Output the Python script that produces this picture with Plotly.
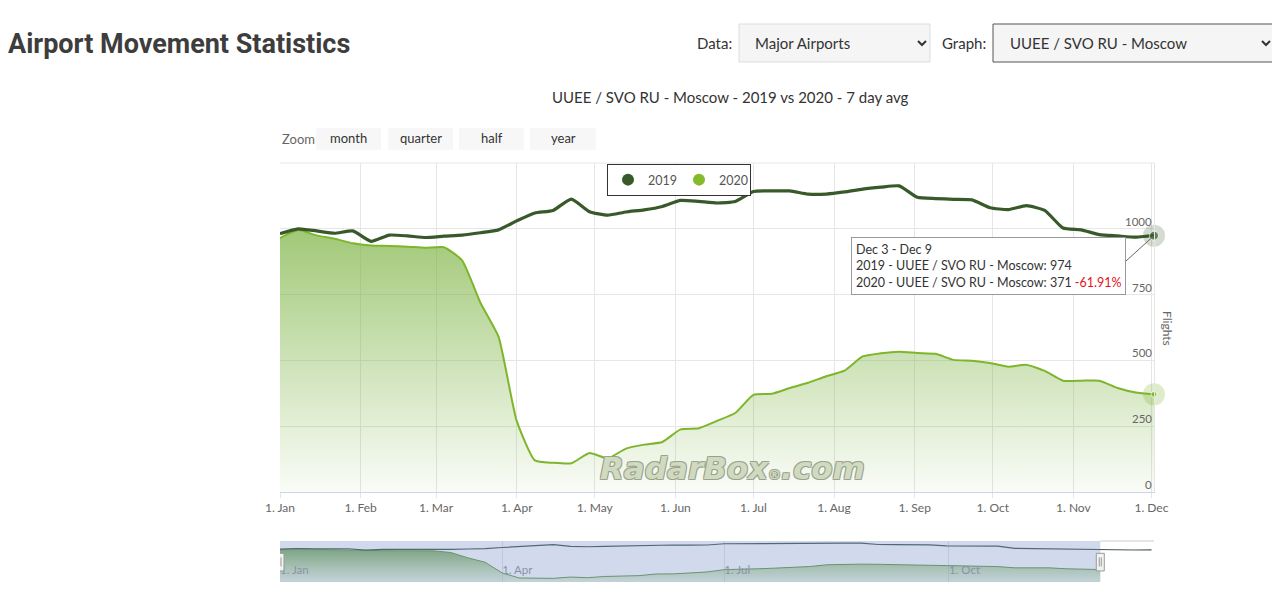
import plotly.graph_objects as go
import pandas as pd

# ---------------- data ----------------
WEEK_START = pd.date_range("2020-01-01", periods=52, freq="7D")  # weekly points
VALUES_2019 = [981, 1000, 992, 983, 992, 952, 976, 973, 967, 972, 976, 985, 996,
               1030, 1060, 1070, 1113, 1065, 1052, 1064, 1072, 1085, 1108, 1104,
               1098, 1104, 1142, 1144, 1144, 1132, 1132, 1140, 1151, 1158, 1163,
               1120, 1115, 1112, 1110, 1080, 1073, 1088, 1070, 1003, 996, 978,
               973, 968, 974, 962, 956, 958]
VALUES_2020 = [965, 995, 975, 962, 945, 937, 935, 932, 928, 930, 880, 720, 590,
               270, 120, 111, 109, 148, 128, 165, 180, 190, 238, 242, 270, 300,
               369, 373, 395, 415, 440, 461, 515, 527, 533, 528, 525, 502, 499,
               490, 476, 483, 460, 423, 423, 423, 395, 378, 371]
SERIES_NAMES = ["2019", "2020"]
AIRPORT = "UUEE / SVO RU - Moscow"
TOOLTIP_RANGE = "Dec 3 - Dec 9"
X_TICKS = pd.date_range("2020-01-01", "2020-12-01", freq="MS")
NAV_TICKS = pd.date_range("2020-01-01", "2020-10-01", freq="QS")
Y_TICKS = [0, 250, 500, 750, 1000]
ZOOM_BUTTONS = ["month", "quarter", "half", "year"]

dates19 = list(WEEK_START[:len(VALUES_2019)])
dates20 = list(WEEK_START[:len(VALUES_2020)])
last_date = dates20[-1]
last19 = VALUES_2019[len(VALUES_2020) - 1]
last20 = VALUES_2020[-1]
pct = (last20 - last19) / last19 * 100

C19 = "#385a2a"
C20 = "#7db52b"
FONT = "Lato"

# ------------- layout geometry (page pixels; page body has 8px margin) -------------
OFF = 8
W, H = 1280 - OFF, 594 - OFF
L, R, T, B = 280, 1154, 163, 582          # plot region in page pixels
def px(xp):
    return (xp - L) / (R - L)
def py(yp):
    return (B - yp) / (B - T)

fig = go.Figure()

# main series
fig.add_trace(go.Scatter(
    x=dates20, y=VALUES_2020, mode="lines", line=dict(color=C20, width=2, shape="spline", smoothing=0.5),
    fill="tozeroy",
    fillgradient=dict(type="vertical", start=0, stop=1000,
                      colorscale=[[0, "rgba(124,179,66,0.04)"], [1, "rgba(124,179,66,0.72)"]]),
    showlegend=False, hoverinfo="skip", xaxis="x", yaxis="y"))
fig.add_trace(go.Scatter(
    x=dates19, y=VALUES_2019, mode="lines", line=dict(color=C19, width=3.2, shape="spline", smoothing=0.5),
    showlegend=False, hoverinfo="skip", xaxis="x", yaxis="y"))

# hover halos / markers on last points
fig.add_trace(go.Scatter(x=[last_date, last_date], y=[last19, last20], mode="markers",
                         marker=dict(size=22, color=["rgba(58,92,44,0.22)", "rgba(125,181,43,0.25)"]),
                         showlegend=False, hoverinfo="skip", cliponaxis=False))
fig.add_trace(go.Scatter(x=[last_date, last_date], y=[last19, last20], mode="markers",
                         marker=dict(size=[9, 6], color=[C19, C20], line=dict(width=1, color="white")),
                         showlegend=False, hoverinfo="skip", cliponaxis=False))

# legend entries
for name, col in zip(SERIES_NAMES, [C19, "#84bb2b"]):
    fig.add_trace(go.Scatter(x=[None], y=[None], mode="markers", name=name,
                             marker=dict(size=12, color=col)))

# navigator series
fig.add_trace(go.Scatter(
    x=dates20, y=VALUES_2020, mode="lines", line=dict(color="#6e9a4a", width=1),
    fill="tozeroy",
    fillgradient=dict(type="vertical", start=0, stop=1000,
                      colorscale=[[0, "rgba(124,179,66,0.15)"], [1, "rgba(90,150,50,0.75)"]]),
    showlegend=False, hoverinfo="skip", xaxis="x2", yaxis="y2"))
fig.add_trace(go.Scatter(
    x=dates19, y=VALUES_2019, mode="lines", line=dict(color="#4a5e52", width=1.2),
    showlegend=False, hoverinfo="skip", xaxis="x2", yaxis="y2"))

shapes = []
annotations = []
nav_end = dates19[-1] + pd.Timedelta(days=1)

# navigator mask, outline and handles
shapes.append(dict(type="rect", xref="x2", yref="y2 domain", x0=dates20[0], x1=last_date, y0=0, y1=1,
                   fillcolor="rgba(102,133,194,0.3)", line=dict(width=0), layer="above"))
shapes.append(dict(type="line", xref="x2", yref="y2 domain", x0=last_date, x1=nav_end,
                   y0=1, y1=1, line=dict(color="#cccccc", width=1)))
for hd in [dates20[0], last_date]:
    shapes.append(dict(type="rect", xref="x2", yref="y2 domain", xsizemode="pixel", xanchor=hd,
                       x0=-4, x1=4, y0=0.27, y1=0.70,
                       line=dict(color="#999999", width=1), fillcolor="#f2f2f2", layer="above"))
    for dx in [-1, 1]:
        shapes.append(dict(type="line", xref="x2", yref="y2 domain", xsizemode="pixel", xanchor=hd,
                           x0=dx, x1=dx, y0=0.38, y1=0.60,
                           line=dict(color="#999999", width=1), layer="above"))

# page furniture (zoom buttons, dropdowns)
shapes.append(dict(type="rect", xref="paper", yref="paper", x0=px(739), x1=px(930), y0=py(62), y1=py(24),
                   fillcolor="#f5f5f5", line=dict(color="#dddddd", width=1), layer="above"))
shapes.append(dict(type="rect", xref="paper", yref="paper", x0=px(993), x1=px(1276), y0=py(62), y1=py(24),
                   fillcolor="#f5f5f5", line=dict(color="#555555", width=1), layer="above"))
for cx in [922, 1266]:
    shapes.append(dict(type="path", xref="paper", yref="paper",
                       path=f"M {px(cx-4)},{py(41)} L {px(cx)},{py(45)} L {px(cx+4)},{py(41)}",
                       line=dict(color="#333333", width=2), layer="above"))
btn_x = [(316, 381), (388, 453), (459, 524), (530, 596)]
for (x0, x1), lab in zip(btn_x, ZOOM_BUTTONS):
    shapes.append(dict(type="rect", xref="paper", yref="paper", x0=px(x0), x1=px(x1), y0=py(150), y1=py(128),
                       fillcolor="#f7f7f7", line=dict(width=0), layer="above"))
    annotations.append(dict(xref="paper", yref="paper", x=px((x0 + x1) / 2), y=py(138), text=lab,
                            xanchor="center", yanchor="middle",
                            showarrow=False, font=dict(family=FONT, size=13, color="#333333")))
annotations.append(dict(xref="paper", yref="paper", x=px(280), y=py(139), text="Zoom",
                        xanchor="left", yanchor="middle",
                        showarrow=False, font=dict(family=FONT, size=13, color="#666666")))

# page title and dropdown labels
annotations.append(dict(xref="paper", yref="paper", x=px(6), y=py(44), text="<b>Airport Movement Statistics</b>",
                        xanchor="left", yanchor="middle", showarrow=False,
                        font=dict(family="Roboto", size=27, color="#3d3d3d")))
annotations.append(dict(xref="paper", yref="paper", x=px(734), y=py(43), text="Data:", xanchor="right",
                        yanchor="middle", showarrow=False, font=dict(family=FONT, size=15, color="#333333")))
annotations.append(dict(xref="paper", yref="paper", x=px(753), y=py(43), text="Major Airports", xanchor="left",
                        yanchor="middle", showarrow=False, font=dict(family=FONT, size=15, color="#333333")))
annotations.append(dict(xref="paper", yref="paper", x=px(988), y=py(43), text="Graph:", xanchor="right",
                        yanchor="middle", showarrow=False, font=dict(family=FONT, size=15, color="#333333")))
annotations.append(dict(xref="paper", yref="paper", x=px(1008), y=py(43), text=AIRPORT, xanchor="left",
                        yanchor="middle", showarrow=False, font=dict(family=FONT, size=15, color="#333333")))
# chart title
annotations.append(dict(xref="paper", yref="paper", x=px(730), y=py(97),
                        text=f"{AIRPORT} - {SERIES_NAMES[0]} vs {SERIES_NAMES[1]} - 7 day avg",
                        xanchor="center", yanchor="middle",
                        showarrow=False, font=dict(family=FONT, size=15, color="#333333")))
# y axis title
annotations.append(dict(xref="paper", yref="paper", x=px(1168), y=py(328), text="Flights", textangle=90,
                        xanchor="center", yanchor="middle",
                        showarrow=False, font=dict(family=FONT, size=12, color="#666666")))
# y tick labels (drawn inside plot, above gridlines, right-aligned)
for v in Y_TICKS:
    annotations.append(dict(xref="paper", yref="y", x=px(1154), y=v, text=str(v), xanchor="right",
                            yanchor="bottom", yshift=-1, showarrow=False,
                            font=dict(family=FONT, size=11.5, color="#666666")))
# watermark
annotations.append(dict(xref="paper", yref="paper", x=px(732), y=py(468),
                        text="RadarBox<span style='font-size:13px'>®</span>.com",
                        xanchor="center", yanchor="middle", showarrow=False,
                        font=dict(family="DejaVu Sans", size=31, color="rgba(214,224,196,0.92)",
                                  style="italic", weight="bold",
                                  shadow="-1px -1px 0 #9aa08f, 1px 1px 0 #9aa08f, 1px -1px 0 #9aa08f, -1px 1px 0 #9aa08f")))
# tooltip
tip = (f"{TOOLTIP_RANGE}<br>{SERIES_NAMES[0]} - {AIRPORT}: {last19}<br>"
       f"{SERIES_NAMES[1]} - {AIRPORT}: {last20} <span style='color:#e8101a'>{pct:.2f}%</span>")
annotations.append(dict(xref="paper", yref="paper", x=px(851), y=py(237), text=tip, align="left",
                        xanchor="left", yanchor="top", showarrow=False,
                        bgcolor="rgba(255,255,255,0.95)", bordercolor="#999999", borderwidth=1, borderpad=4,
                        font=dict(family=FONT, size=12.5, color="#333333")))
# tooltip connector
shapes.append(dict(type="line", xref="x", yref="y", xsizemode="pixel", ysizemode="pixel",
                   xanchor=last_date, yanchor=last19, x0=0, y0=0, x1=-32, y1=-29,
                   line=dict(color="#666666", width=1), layer="above"))

fig.update_layout(
    width=W, height=H,
    margin=dict(l=L - OFF, r=W - (R - OFF), t=T - OFF, b=H - (B - OFF), autoexpand=False),
    paper_bgcolor="white", plot_bgcolor="white",
    font=dict(family=FONT, color="#666666"),
    showlegend=True,
    legend=dict(orientation="h", x=px(607), y=py(164), xanchor="left", yanchor="top",
                bordercolor="#333333", borderwidth=1, bgcolor="white",
                font=dict(family=FONT, size=12.5, color="#555555"), itemwidth=30,
                entrywidthmode="pixels", entrywidth=26, tracegroupgap=0),
    xaxis=dict(type="date", range=[dates20[0], last_date], domain=[0, 1],
               tickvals=X_TICKS, tickformat="%-d. %b", showgrid=True, gridcolor="#e6e6e6",
               showline=True, linecolor="#ccd6eb", ticks="outside", ticklen=5, tickcolor="#e6e6e6",
               tickfont=dict(family=FONT, size=12, color="#666666"), anchor="y", zeroline=False),
    yaxis=dict(domain=[(B - 492) / (B - T), 1], range=[0, 1250], side="right",
               tickvals=Y_TICKS, showticklabels=False,
               showgrid=True, gridcolor="#e6e6e6", zeroline=False, anchor="x",
               showline=True, linecolor="#e6e6e6"),
    xaxis2=dict(type="date", range=[dates20[0], nav_end], domain=[0, 1],
                anchor="y2", tickvals=NAV_TICKS, tickformat="%-d. %b", ticklabelposition="inside right",
                showgrid=True, gridcolor="#e6e6e6", showline=False, zeroline=False,
                tickfont=dict(family=FONT, size=11.5, color="#999999")),
    yaxis2=dict(domain=[0, 41 / (B - T)], range=[0, 1224], visible=False, anchor="x2"),
    shapes=shapes, annotations=annotations,
)
# top border line of plot area
fig.add_shape(type="line", xref="paper", yref="y domain", x0=0, x1=1, y0=1, y1=1,
              line=dict(color="#e6e6e6", width=1))

fig.write_html("out.html")
